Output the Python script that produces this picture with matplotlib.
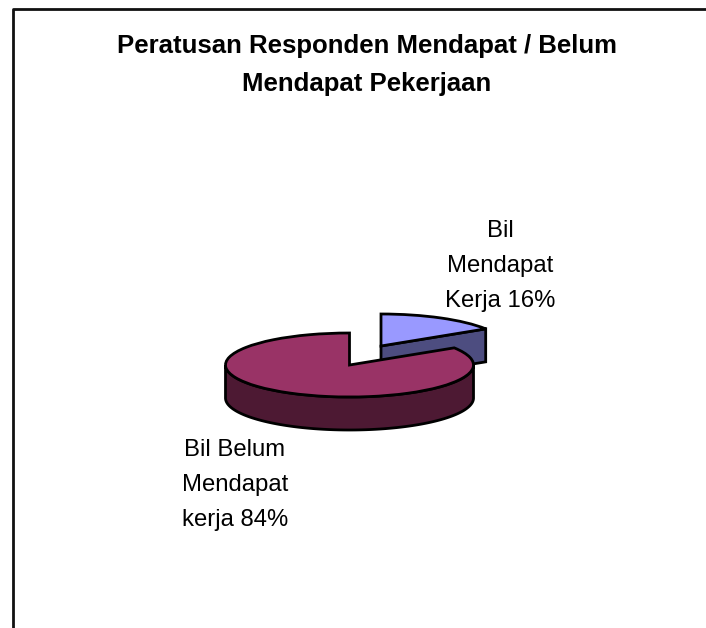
import numpy as np
import matplotlib
matplotlib.use("Agg")
import matplotlib.pyplot as plt
from matplotlib.patches import Polygon

title = "Peratusan Responden Mendapat / Belum\nMendapat Pekerjaan"
labels = ["Bil\nMendapat\nKerja 16%", "Bil Belum\nMendapat\nkerja 84%"]
shares = [16, 84]
top_colors = ["#9999FF", "#993366"]
side_colors = ["#4D4D80", "#4D1933"]

W, H = 706, 628
plt.rcParams["font.family"] = ["Liberation Sans", "DejaVu Sans"]

fig = plt.figure(figsize=(W / 100, H / 100), dpi=100, facecolor="white")

# pie radius is 1 in data units, the axis scale squashes it into an ellipse
rx, ry = 124, 32
cx, cy = 349.5, 365
ax = fig.add_axes([0, 0, 1, 1])

wedges, _ = ax.pie(shares, colors=top_colors, startangle=90, counterclock=False,
                   wedgeprops=dict(edgecolor="black", linewidth=2, joinstyle="miter"))
ax.set_aspect("auto")
ax.set_xlim(-cx / rx, (W - cx) / rx)
ax.set_ylim((cy - H) / ry, cy / ry)
ax.axis("off")

depth = 33 / ry
lift_x, lift_y = 31.5 / rx, 19 / ry
cut = 2 * np.pi * shares[0] / sum(shares)   # clockwise from 12 o'clock

# small slice pulled out to upper right
wedges[0].set_center((lift_x, lift_y))
wedges[0].set_zorder(3)
wedges[1].set_zorder(5)
rim_x, rim_y = np.sin(cut), np.cos(cut)
face = [(lift_x, lift_y), (lift_x + rim_x, lift_y + rim_y),
        (lift_x + rim_x, lift_y + rim_y - depth), (lift_x, lift_y - depth)]
ax.add_patch(Polygon(face, closed=True, facecolor=side_colors[0], edgecolor="black",
                     linewidth=2, zorder=2))

# front wall of the big slice
t = np.linspace(-np.pi, 0, 200)
upper = np.column_stack([np.cos(t), np.sin(t)])
lower = upper[::-1] - [0, depth]
ax.add_patch(Polygon(np.vstack([upper, lower]), closed=True, facecolor=side_colors[1],
                     edgecolor="black", linewidth=2, zorder=4))

# frame, open on the right and at the bottom
fig.add_artist(plt.Line2D([12.5 / W, 12.5 / W, 1], [0, 1 - 9 / H, 1 - 9 / H],
                          color="#111111", linewidth=2))

fig.text(367 / W, 1 - 65 / H, title, ha="center", va="center", fontsize=18.5,
         fontweight="bold", linespacing=1.72, color="black")
fig.text(500 / W, 1 - 266 / H, labels[0], ha="center", va="center", fontsize=17.2,
         linespacing=1.75, color="black")
fig.text(235 / W, 1 - 485 / H, labels[1], ha="center", va="center", fontsize=17.2,
         linespacing=1.75, color="black")

fig.savefig("out.png", dpi=100, facecolor="white")
